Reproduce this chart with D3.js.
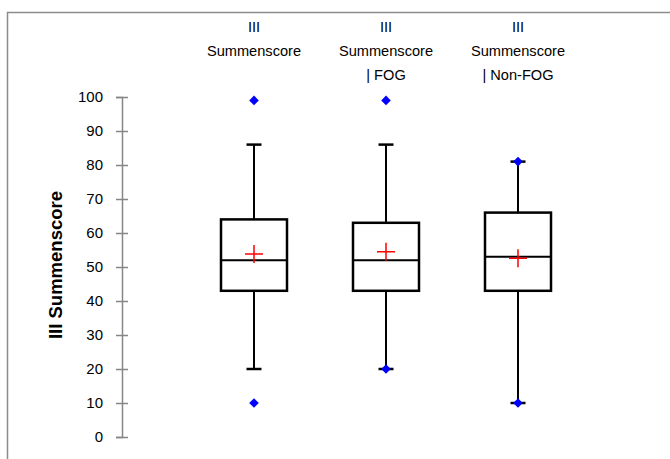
<!DOCTYPE html>
<html>
<head>
<meta charset="utf-8">
<script src="https://cdn.jsdelivr.net/npm/d3@7"></script>
<style>
  body { margin: 0; background: #fff; }
  svg { display: block; font-family: "Liberation Sans", Arial, sans-serif; }
</style>
</head>
<body>
<div id="chart"></div>
<script>
// ---- data ----
const categories = [
  ["III", "Summenscore"],
  ["III", "Summenscore", "| FOG"],
  ["III", "Summenscore", "| Non-FOG"]
];
const whiskerLow  = [20, 20, 10];
const q1          = [43, 43, 43];
const median      = [52, 52, 53];
const q3          = [64, 63, 66];
const whiskerHigh = [86, 86, 81];
const means       = [53.8, 54.5, 52.6];
const outliers    = [[99, 10], [99, 20], [81, 10]];
const yTicks      = [0, 10, 20, 30, 40, 50, 60, 70, 80, 90, 100];
const yTitle      = "III Summenscore";

// ---- layout ----
const width = 670, height = 459;
const svg = d3.select("#chart").append("svg")
    .attr("width", width)
    .attr("height", height);

// chart frame (runs off the right and bottom edge)
svg.append("rect")
    .attr("x", 7.5).attr("y", 12.5)
    .attr("width", 680).attr("height", 470)
    .attr("fill", "#fff")
    .attr("stroke", "#8c8c8c")
    .attr("stroke-width", 1.5);

const x = d3.scaleLinear().domain([0, 4]).range([122, 650]);
const y = d3.scaleLinear().domain([0, 100]).range([437, 97]);

// y axis with ticks crossing the line
const yAxis = svg.append("g")
    .attr("transform", `translate(${x(0)},0)`)
    .call(d3.axisLeft(y).tickValues(yTicks).tickSize(6).tickPadding(13));
yAxis.attr("font-size", null).attr("font-family", null);
yAxis.select(".domain").attr("stroke", "#868686").attr("stroke-width", 1.5);
yAxis.selectAll(".tick line").attr("x1", 6).attr("x2", -6)
    .attr("stroke", "#868686").attr("stroke-width", 1.5);
yAxis.selectAll(".tick text")
    .style("font-size", "15px")
    .attr("fill", "#000");

svg.append("text")
    .attr("transform", `translate(62,${(y(0) + y(100)) / 2 - 2}) rotate(-90)`)
    .attr("text-anchor", "middle")
    .style("font-size", "18.5px")
    .attr("font-weight", "bold")
    .attr("fill", "#000")
    .text(yTitle);

// category labels on top
categories.forEach((lines, i) => {
  const t = svg.append("text")
      .attr("x", x(i + 1))
      .attr("text-anchor", "middle")
      .style("font-size", "14.6px")
      .attr("fill", "#000");
  lines.forEach((ln, j) => {
    t.append("tspan").attr("x", x(i + 1)).attr("y", 32 + j * 24).text(ln);
  });
});

// boxes
const boxW = 66, capW = 15;
const g = svg.append("g");
categories.forEach((c, i) => {
  const cx = x(i + 1);
  // whiskers
  g.append("line")
      .attr("x1", cx).attr("x2", cx)
      .attr("y1", y(whiskerHigh[i])).attr("y2", y(q3[i]))
      .attr("stroke", "#000").attr("stroke-width", 2);
  g.append("line")
      .attr("x1", cx).attr("x2", cx)
      .attr("y1", y(q1[i])).attr("y2", y(whiskerLow[i]))
      .attr("stroke", "#000").attr("stroke-width", 2);
  [whiskerHigh[i], whiskerLow[i]].forEach(v => {
    g.append("line")
        .attr("x1", cx - capW / 2).attr("x2", cx + capW / 2)
        .attr("y1", y(v)).attr("y2", y(v))
        .attr("stroke", "#000").attr("stroke-width", 2.5);
  });
  // box
  g.append("rect")
      .attr("x", cx - boxW / 2).attr("y", y(q3[i]))
      .attr("width", boxW).attr("height", y(q1[i]) - y(q3[i]))
      .attr("fill", "none")
      .attr("stroke", "#000").attr("stroke-width", 2.5);
  g.append("line")
      .attr("x1", cx - boxW / 2).attr("x2", cx + boxW / 2)
      .attr("y1", y(median[i])).attr("y2", y(median[i]))
      .attr("stroke", "#000").attr("stroke-width", 2);
  // mean cross
  const my = y(means[i]);
  g.append("path")
      .attr("d", `M${cx - 9},${my}H${cx + 9}M${cx},${my - 9}V${my + 9}`)
      .attr("stroke", "#ff0000").attr("stroke-width", 1.5).attr("fill", "none");
  // outliers / extreme points
  outliers[i].forEach(v => {
    g.append("path")
        .attr("transform", `translate(${cx},${y(v)}) rotate(45)`)
        .attr("d", d3.symbol(d3.symbolSquare, 46)())
        .attr("fill", "#0000ff");
  });
});
</script>
</body>
</html>
